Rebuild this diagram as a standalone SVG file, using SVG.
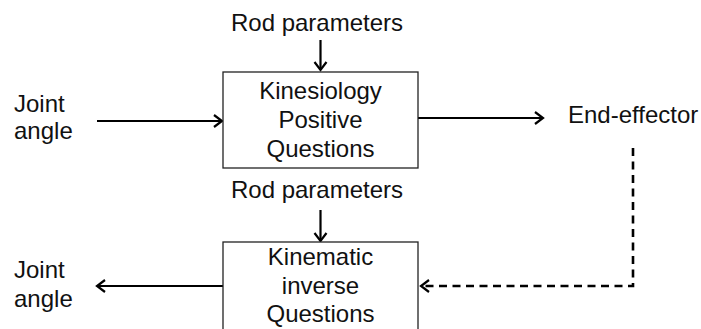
<svg xmlns="http://www.w3.org/2000/svg" width="701" height="329" viewBox="0 0 701 329">
<style>
text{font-family:"Liberation Sans",Arial,sans-serif;font-size:24px;fill:#111}
.box{fill:#fff;stroke:#222;stroke-width:1.3}
.ln{fill:none;stroke:#000;stroke-width:2.2}
.dash{fill:none;stroke:#000;stroke-width:2.6;stroke-dasharray:8 5.5}
</style>
<defs>
<marker id="ah" markerUnits="userSpaceOnUse" markerWidth="14" markerHeight="16" refX="11" refY="8" orient="auto">
<path d="M3,2 L11,8 L3,14" fill="none" stroke="#000" stroke-width="2.2"/>
</marker>
</defs>
<rect width="701" height="329" fill="#fff"/>
<g id="connectors">
<line class="ln" x1="320.5" y1="40" x2="320.5" y2="70" marker-end="url(#ah)"/>
<line class="ln" x1="97" y1="121" x2="222" y2="121" marker-end="url(#ah)"/>
<line class="ln" x1="418" y1="118" x2="543" y2="118" marker-end="url(#ah)"/>
<line class="ln" x1="320.5" y1="210" x2="320.5" y2="241" marker-end="url(#ah)"/>
<line class="ln" x1="223" y1="286" x2="97" y2="286" marker-end="url(#ah)"/>
<path class="dash" d="M633,148 L633,286 L421,286" marker-end="url(#ah)"/>
</g>
<g id="rod1"><text x="317" y="31" text-anchor="middle">Rod parameters</text></g>
<g id="joint1"><text x="14" y="112">Joint</text><text x="14" y="139">angle</text></g>
<g id="forward">
<rect class="box" x="223" y="72" width="195" height="96"/>
<text x="320.5" text-anchor="middle"><tspan x="320.5" y="99">Kinesiology</tspan><tspan x="320.5" y="128">Positive</tspan><tspan x="320.5" y="157">Questions</tspan></text>
</g>
<g id="endeff"><text x="568" y="123">End-effector</text></g>
<g id="rod2"><text x="317" y="198" text-anchor="middle">Rod parameters</text></g>
<g id="inverse">
<rect class="box" x="223" y="242" width="195" height="100"/>
<text x="320.5" text-anchor="middle"><tspan x="320.5" y="265">Kinematic</tspan><tspan x="320.5" y="294">inverse</tspan><tspan x="320.5" y="322">Questions</tspan></text>
</g>
<g id="joint2"><text x="14" y="278">Joint</text><text x="14" y="307">angle</text></g>
</svg>
